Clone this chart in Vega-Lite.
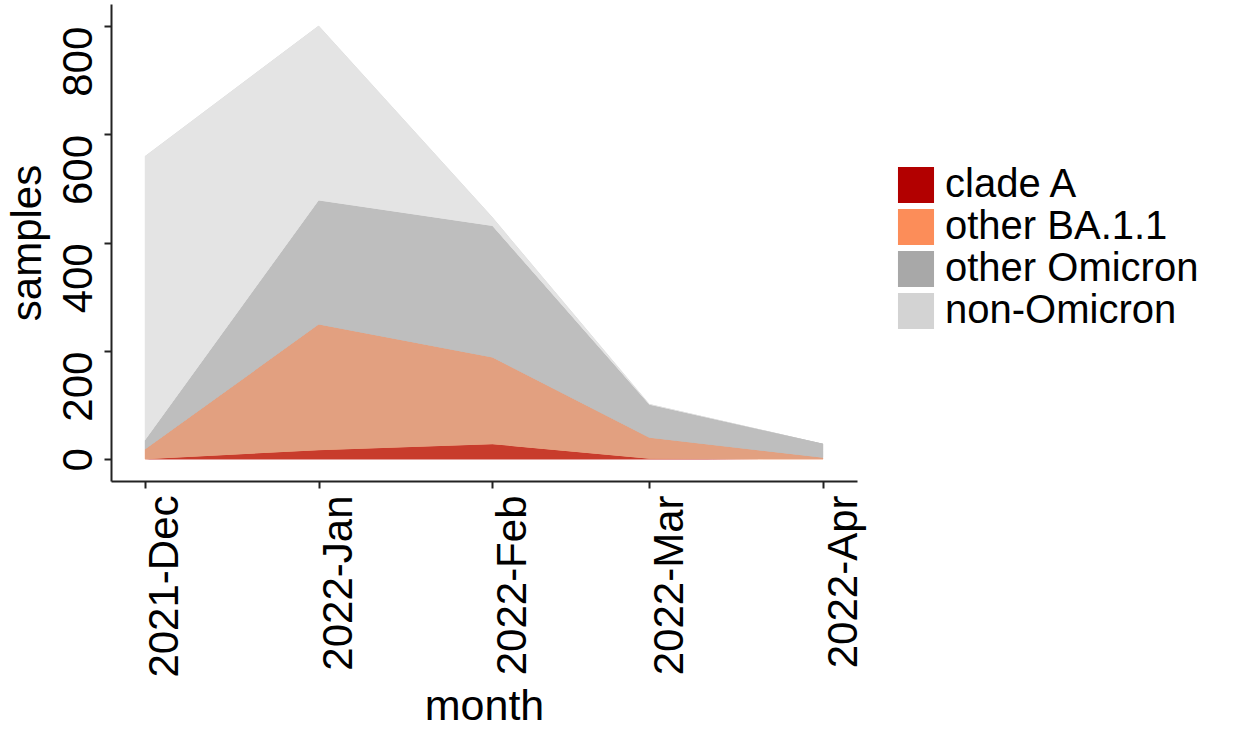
{
  "$schema": "https://vega.github.io/schema/vega-lite/v6.json",
  "width": 746,
  "height": 477,
  "autosize": "none",
  "padding": {"left": 111, "top": 4, "right": 379, "bottom": 249},
  "background": "white",
  "config": {"view": {"stroke": null}, "font": "Liberation Sans"},
  "data": {"values": [
    {"month": "2021-12-01", "variant": "clade A", "rank": 1, "samples": 0},
    {"month": "2021-12-01", "variant": "other BA.1.1", "rank": 2, "samples": 18},
    {"month": "2021-12-01", "variant": "other Omicron", "rank": 3, "samples": 17},
    {"month": "2021-12-01", "variant": "non-Omicron", "rank": 4, "samples": 525},
    {"month": "2022-01-01", "variant": "clade A", "rank": 1, "samples": 17},
    {"month": "2022-01-01", "variant": "other BA.1.1", "rank": 2, "samples": 232},
    {"month": "2022-01-01", "variant": "other Omicron", "rank": 3, "samples": 229},
    {"month": "2022-01-01", "variant": "non-Omicron", "rank": 4, "samples": 323},
    {"month": "2022-02-01", "variant": "clade A", "rank": 1, "samples": 28},
    {"month": "2022-02-01", "variant": "other BA.1.1", "rank": 2, "samples": 160},
    {"month": "2022-02-01", "variant": "other Omicron", "rank": 3, "samples": 243},
    {"month": "2022-02-01", "variant": "non-Omicron", "rank": 4, "samples": 16},
    {"month": "2022-03-01", "variant": "clade A", "rank": 1, "samples": 1},
    {"month": "2022-03-01", "variant": "other BA.1.1", "rank": 2, "samples": 39},
    {"month": "2022-03-01", "variant": "other Omicron", "rank": 3, "samples": 61},
    {"month": "2022-03-01", "variant": "non-Omicron", "rank": 4, "samples": 1},
    {"month": "2022-04-01", "variant": "clade A", "rank": 1, "samples": 0},
    {"month": "2022-04-01", "variant": "other BA.1.1", "rank": 2, "samples": 3},
    {"month": "2022-04-01", "variant": "other Omicron", "rank": 3, "samples": 26},
    {"month": "2022-04-01", "variant": "non-Omicron", "rank": 4, "samples": 0}
  ]},
  "encoding": {
    "x": {
      "field": "month", "type": "temporal", "title": "month",
      "scale": {"type": "utc", "domain": [1637794080000, 1649293920000]},
      "axis": {
        "values": [1638316800000, 1640995200000, 1643673600000, 1646092800000, 1648771200000],
        "labelExpr": "utcFormat(datum.value, '%Y-%b')",
        "labelAngle": 270, "labelAlign": "right", "labelBaseline": "top",
        "labelFontSize": 42, "labelColor": "#000", "labelPadding": 7, "labelLimit": 0,
        "titleFontSize": 43, "titleColor": "#000", "titleFontWeight": "normal", "titlePadding": 8,
        "domainColor": "#222", "domainWidth": 2, "tickColor": "#222", "tickWidth": 2, "tickSize": 7,
        "grid": false, "labelOverlap": false, "labelFlush": false, "labelBound": false
      }
    },
    "y": {
      "field": "samples", "type": "quantitative", "stack": "zero", "title": "samples",
      "scale": {"domain": [-40, 841], "nice": false, "zero": false},
      "axis": {
        "values": [0, 200, 400, 600, 800],
        "labelAngle": 270,
        "labelAlign": {"condition": {"test": "datum.value === 0", "value": "center"}, "value": "right"},
        "labelBaseline": "bottom",
        "labelFontSize": 42, "labelColor": "#000", "labelPadding": 4, "labelLimit": 0,
        "titleFontSize": 42, "titleColor": "#000", "titleFontWeight": "normal", "titlePadding": 8,
        "domainColor": "#222", "domainWidth": 2, "tickColor": "#222", "tickWidth": 2, "tickSize": 7,
        "grid": false, "labelOverlap": false, "labelFlush": false, "labelBound": false
      }
    },
    "order": {"field": "rank", "type": "quantitative"}
  },
  "layer": [
    {
      "mark": {"type": "area", "interpolate": "linear"},
      "encoding": {
        "color": {
          "field": "variant", "type": "nominal",
          "scale": {
            "domain": ["clade A", "other BA.1.1", "other Omicron", "non-Omicron"],
            "range": ["#b20000", "#fc8d59", "#a8a8a8", "#d3d3d3"]
          },
          "legend": {
            "title": null, "orient": "none", "legendX": 785, "legendY": 161,
            "symbolType": "square", "symbolSize": 1300, "symbolStrokeWidth": 0, "symbolOpacity": 1,
            "labelFontSize": 40, "labelColor": "#000", "labelOffset": 9, "rowPadding": 2, "labelLimit": 0
          }
        }
      }
    },
    {
      "mark": {"type": "area", "interpolate": "linear"},
      "encoding": {
        "color": {
          "field": "variant", "type": "nominal",
          "scale": {
            "domain": ["clade A", "other BA.1.1", "other Omicron", "non-Omicron"],
            "range": ["#c83c2c", "#e2a080", "#bebebe", "#e4e4e4"]
          },
          "legend": null
        }
      }
    }
  ],
  "resolve": {"scale": {"color": "independent"}}
}
